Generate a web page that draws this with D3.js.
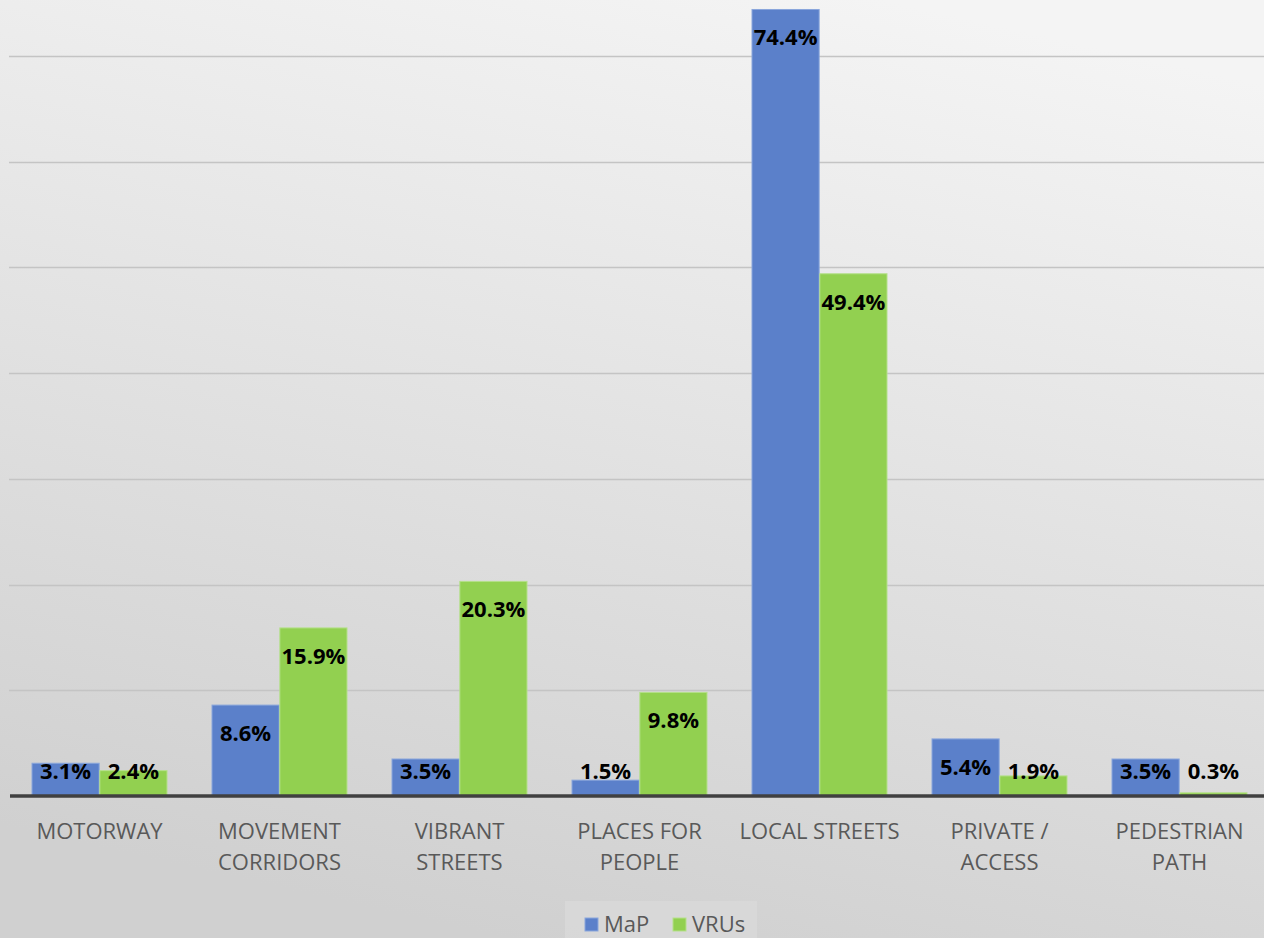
<!DOCTYPE html>
<html>
<head>
<meta charset="utf-8">
<script src="https://cdn.jsdelivr.net/npm/d3@7"></script>
<style>
  body { margin: 0; padding: 0; overflow: hidden; }
  svg { display: block; }
</style>
</head>
<body>
<div id="chart"></div>
<script>
// chart data
var categories = [["MOTORWAY"], ["MOVEMENT", "CORRIDORS"], ["VIBRANT", "STREETS"],
  ["PLACES FOR", "PEOPLE"], ["LOCAL STREETS"], ["PRIVATE /", "ACCESS"], ["PEDESTRIAN", "PATH"]];
var seriesNames = ["MaP", "VRUs"];
var mapValues = [3.1, 8.6, 3.5, 1.5, 74.4, 5.4, 3.5];
var vruValues = [2.4, 15.9, 20.3, 9.8, 49.4, 1.9, 0.3];
var gridTicks = [10, 20, 30, 40, 50, 60, 70];

var W = 1264, H = 938;
var colors = ["#5b80ca", "#92d050"];
var font = "'Open Sans', 'Noto Sans', sans-serif";

var svg = d3.select("#chart").append("svg").attr("width", W).attr("height", H);

var defs = svg.append("defs");
var bg = defs.append("linearGradient").attr("id", "bg")
  .attr("x1", "0.7").attr("y1", "0").attr("x2", "0.4").attr("y2", "1");
bg.append("stop").attr("offset", "0").attr("stop-color", "#f4f4f4");
bg.append("stop").attr("offset", "1").attr("stop-color", "#d0d0d0");

svg.append("rect").attr("width", W).attr("height", H).attr("fill", "url(#bg)");

var x0 = d3.scaleBand().domain(d3.range(categories.length))
  .range([9.5, 1269.5]).paddingInner(0.25).paddingOuter(0.125);
var x1 = d3.scaleBand().domain([0, 1]).range([0, x0.bandwidth()]).paddingInner(0.01);
var y = d3.scaleLinear().domain([0, 70]).range([796, 56]);

// gridlines
svg.append("g").selectAll("line").data(gridTicks).enter().append("line")
  .attr("x1", 9).attr("x2", W)
  .attr("y1", function(d) { return Math.round(y(d)) + 0.5; })
  .attr("y2", function(d) { return Math.round(y(d)) + 0.5; })
  .attr("stroke", "#c4c4c4").attr("stroke-width", 1.5);

var rows = mapValues.map(function(v, i) { return [v, vruValues[i]]; });

var groups = svg.append("g").selectAll("g").data(rows).enter().append("g")
  .attr("transform", function(d, i) { return "translate(" + x0(i) + ",0)"; });

groups.selectAll("rect").data(function(d) { return d; }).enter().append("rect")
  .attr("x", function(d, j) { return x1(j); })
  .attr("width", x1.bandwidth())
  .attr("y", function(d) { return y(d); })
  .attr("height", function(d) { return y(0) - y(d); })
  .attr("fill", function(d, j) { return colors[j]; })
  .attr("stroke", function(d, j) { return j == 0 ? "#8aa6dc" : "#b5e08a"; })
  .attr("stroke-width", 1);

groups.selectAll("text.val").data(function(d) { return d; }).enter().append("text")
  .attr("class", "val")
  .attr("x", function(d, j) { return x1(j) + x1.bandwidth() / 2; })
  .attr("y", function(d) { return Math.min(y(d) + 36, 779); })
  .attr("text-anchor", "middle")
  .attr("font-family", font).attr("font-weight", "bold").attr("font-size", 22)
  .attr("fill", "#000")
  .text(function(d) { return d.toFixed(1) + "%"; });

// baseline
svg.append("line").attr("x1", 10).attr("x2", W).attr("y1", 796).attr("y2", 796)
  .attr("stroke", "#404040").attr("stroke-width", 3.5);

// category labels
var cat = svg.append("g").selectAll("text").data(categories).enter().append("text")
  .attr("x", function(d, i) { return x0(i) + x0.bandwidth() / 2; })
  .attr("y", 839)
  .attr("text-anchor", "middle")
  .attr("font-family", font).attr("font-size", 22).attr("fill", "#595959");
cat.selectAll("tspan").data(function(d) { return d; }).enter().append("tspan")
  .attr("x", function() { return d3.select(this.parentNode).attr("x"); })
  .attr("dy", function(d, k) { return k == 0 ? 0 : 31; })
  .text(function(d) { return d; });

// legend
var leg = svg.append("g");
leg.append("rect").attr("x", 565).attr("y", 901).attr("width", 192).attr("height", 40)
  .attr("fill", "#dcdcdc").attr("opacity", 0.6);
var lx = [585, 673];
seriesNames.forEach(function(n, i) {
  leg.append("rect").attr("x", lx[i]).attr("y", 918).attr("width", 13).attr("height", 13)
    .attr("fill", colors[i]).attr("stroke", i == 0 ? "#8aa6dc" : "#b5e08a");
  leg.append("text").attr("x", lx[i] + 19).attr("y", 932)
    .attr("font-family", font).attr("font-size", 22).attr("fill", "#595959").text(n);
});
</script>
</body>
</html>
